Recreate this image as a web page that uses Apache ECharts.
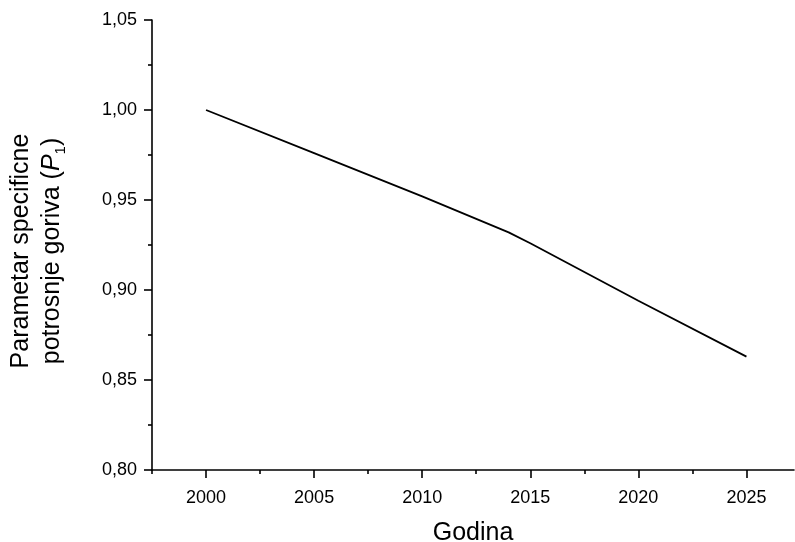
<!DOCTYPE html>
<html>
<head>
<meta charset="utf-8">
<script src="https://cdn.jsdelivr.net/npm/echarts@6/dist/echarts.min.js"></script>
<style>
html,body{margin:0;padding:0;background:#fff;}
#chart{width:795px;height:542px;}
</style>
</head>
<body>
<div id="chart"></div>
<script>
// Data
var years = [2000, 2005, 2010, 2014, 2015, 2020, 2025];
var p1Values = [1.000, 0.976, 0.952, 0.932, 0.926, 0.894, 0.863];
var xTickLabels = [2000, 2005, 2010, 2015, 2020, 2025];
var xMinorTicks = [1997.5, 2002.5, 2007.5, 2012.5, 2017.5, 2022.5];
var yTickLabels = [0.80, 0.85, 0.90, 0.95, 1.00, 1.05];

var FONT = '"Liberation Sans", Arial, sans-serif';
var chart = echarts.init(document.getElementById('chart'));
var xMin = 1997.5, xMax = 2027.2;

var option = {
  backgroundColor: '#ffffff',
  animation: false,
  grid: { left: 152, right: 1, top: 20, bottom: 72, containLabel: false, outerBoundsMode: 'none' },
  xAxis: [
    {
      type: 'value', min: xMin, max: xMax, position: 'bottom',
      name: 'Godina', nameLocation: 'middle', nameGap: 51,
      nameTextStyle: { fontFamily: FONT, fontSize: 25, color: '#000' },
      axisLine: { show: true, onZero: false, lineStyle: { color: '#000', width: 1.6 } },
      axisTick: { show: true, inside: false, length: 8, customValues: xTickLabels, lineStyle: { color: '#000', width: 1.6 } },
      axisLabel: { show: true, customValues: xTickLabels, margin: 19, fontFamily: FONT, fontSize: 18, color: '#000',
        formatter: function (v) { return String(Math.round(v)); } },
      splitLine: { show: false }
    },
    {
      type: 'value', min: xMin, max: xMax, position: 'bottom',
      axisLine: { show: false, onZero: false },
      axisTick: { show: true, inside: false, length: 4, customValues: xMinorTicks, lineStyle: { color: '#000', width: 1.6 } },
      axisLabel: { show: false },
      splitLine: { show: false }
    }
  ],
  yAxis: {
    type: 'value', min: 0.80, max: 1.05, interval: 0.05,
    name: '{n|Parametar specificne}\n{n|potrosnje goriva (}{i|P}{s|1}{n|)}',
    nameLocation: 'middle', nameRotate: 90, nameGap: 84,
    nameTextStyle: {
      fontFamily: FONT, color: '#000', padding: [0, 12, 0, 0],
      rich: {
        n: { fontFamily: FONT, fontSize: 25, lineHeight: 31, color: '#000' },
        i: { fontFamily: FONT, fontSize: 25, lineHeight: 31, fontStyle: 'italic', color: '#000' },
        s: { fontFamily: FONT, fontSize: 15, lineHeight: 15, verticalAlign: 'bottom', color: '#000' }
      }
    },
    axisLine: { show: true, onZero: false, lineStyle: { color: '#000', width: 1.6 } },
    axisTick: { show: true, inside: false, length: 8, lineStyle: { color: '#000', width: 1.6 } },
    minorTick: { show: true, splitNumber: 2, length: 4, lineStyle: { color: '#000', width: 1.6 } },
    axisLabel: { margin: 15, fontFamily: FONT, fontSize: 18, color: '#000',
      formatter: function (v) { return v.toFixed(2).replace('.', ','); } },
    splitLine: { show: false }
  },
  series: [{
    type: 'line',
    xAxisIndex: 0,
    data: years.map(function (y, i) { return [y, p1Values[i]]; }),
    showSymbol: false, symbol: 'none', smooth: false,
    lineStyle: { color: '#000', width: 1.8 }
  }]
};
chart.setOption(option);
</script>
</body>
</html>
